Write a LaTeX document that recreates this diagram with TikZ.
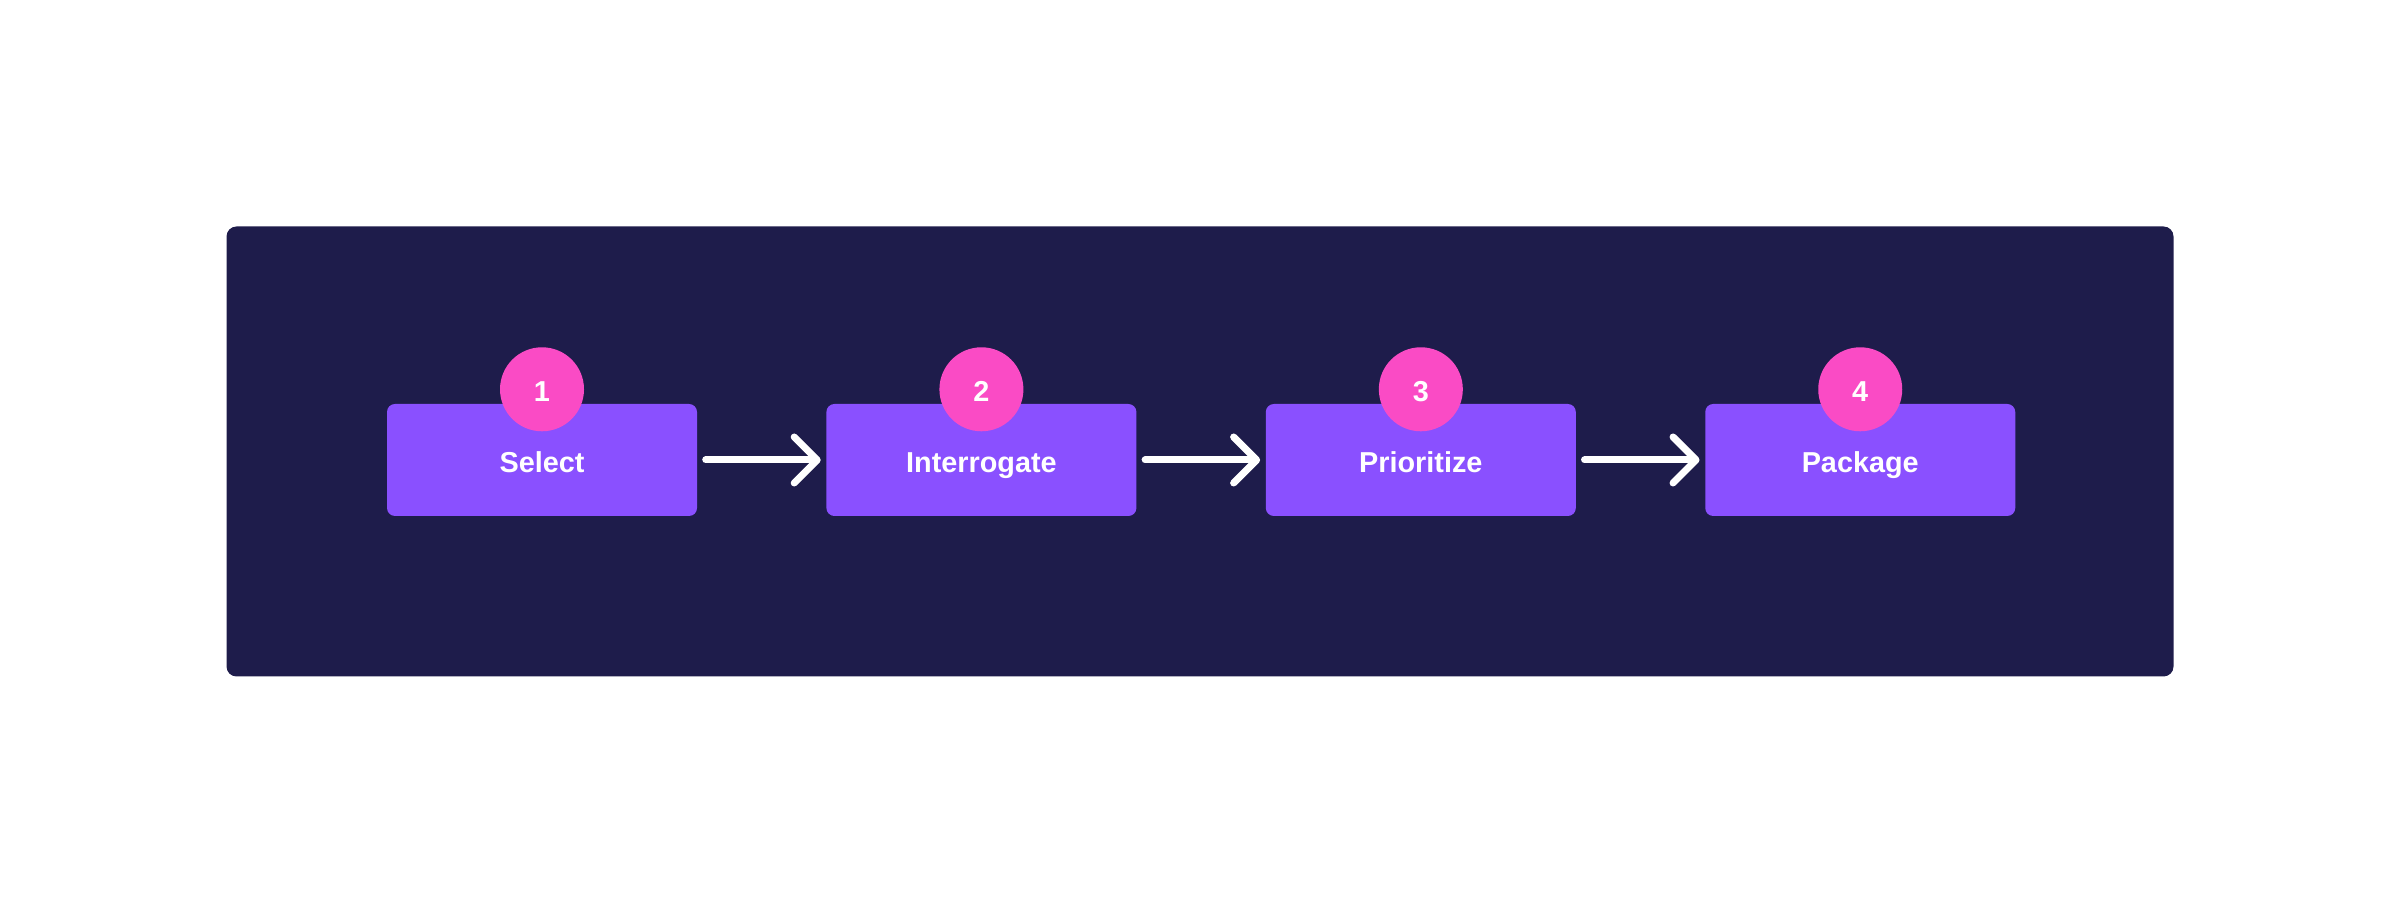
\documentclass[tikz,border=0pt]{standalone}
\usepackage{fontspec}
\setsansfont{Liberation Sans}
\usetikzlibrary{positioning, arrows.meta}
\definecolor{flowNavy}{HTML}{1E1C4B}
\definecolor{flowStep}{HTML}{8A50FF}
\definecolor{flowBadge}{HTML}{FA4BC5}
\tikzset{
    flowBoxBase/.style={
        rectangle,
        rounded corners=0.08cm,
        minimum height=1.12cm,
        minimum width=3.1cm,
        font=\fontsize{8.2}{10}\selectfont\sffamily\bfseries,
        text=white,
        text height=0.72em,
        text depth=0pt,
        align=center,
        inner sep=0pt
    },
    % Semantic Variants
    stepBox/.style={flowBoxBase, fill=flowStep},
    badge/.style={circle, fill=flowBadge, minimum size=0.84cm, inner sep=0pt,
        text=white, text height=0.72em, text depth=0pt,
        font=\fontsize{8.2}{10}\selectfont\sffamily\bfseries},
    % Arrows
    flowArrow/.style={-{Straight Barb[length=0.23cm, width=0.46cm, round]},
        line width=0.07cm, line cap=round, draw=white,
        shorten <=0.08cm, shorten >=0.05cm}
}

\begin{document}
\begin{tikzpicture}[node distance=1.28cm]
    \useasboundingbox (0,0) rectangle (24,9.04);
    \fill[flowNavy, rounded corners=0.1cm] (2.265,2.275) rectangle (21.735,6.775);

    \node[stepBox] (select) at (5.42,4.44) {Select};
    \node[stepBox, right=of select] (interrogate) {Interrogate};
    \node[stepBox, right=of interrogate] (prioritize) {Prioritize};
    \node[stepBox, right=of prioritize] (package) {Package};

    \node[badge] (b1) at ([yshift=0.14cm]select.north) {1};
    \node[badge] (b2) at ([yshift=0.14cm]interrogate.north) {2};
    \node[badge] (b3) at ([yshift=0.14cm]prioritize.north) {3};
    \node[badge] (b4) at ([yshift=0.14cm]package.north) {4};

    \draw[flowArrow] (select) -- (interrogate);
    \draw[flowArrow] (interrogate) -- (prioritize);
    \draw[flowArrow] (prioritize) -- (package);
\end{tikzpicture}
\end{document}
